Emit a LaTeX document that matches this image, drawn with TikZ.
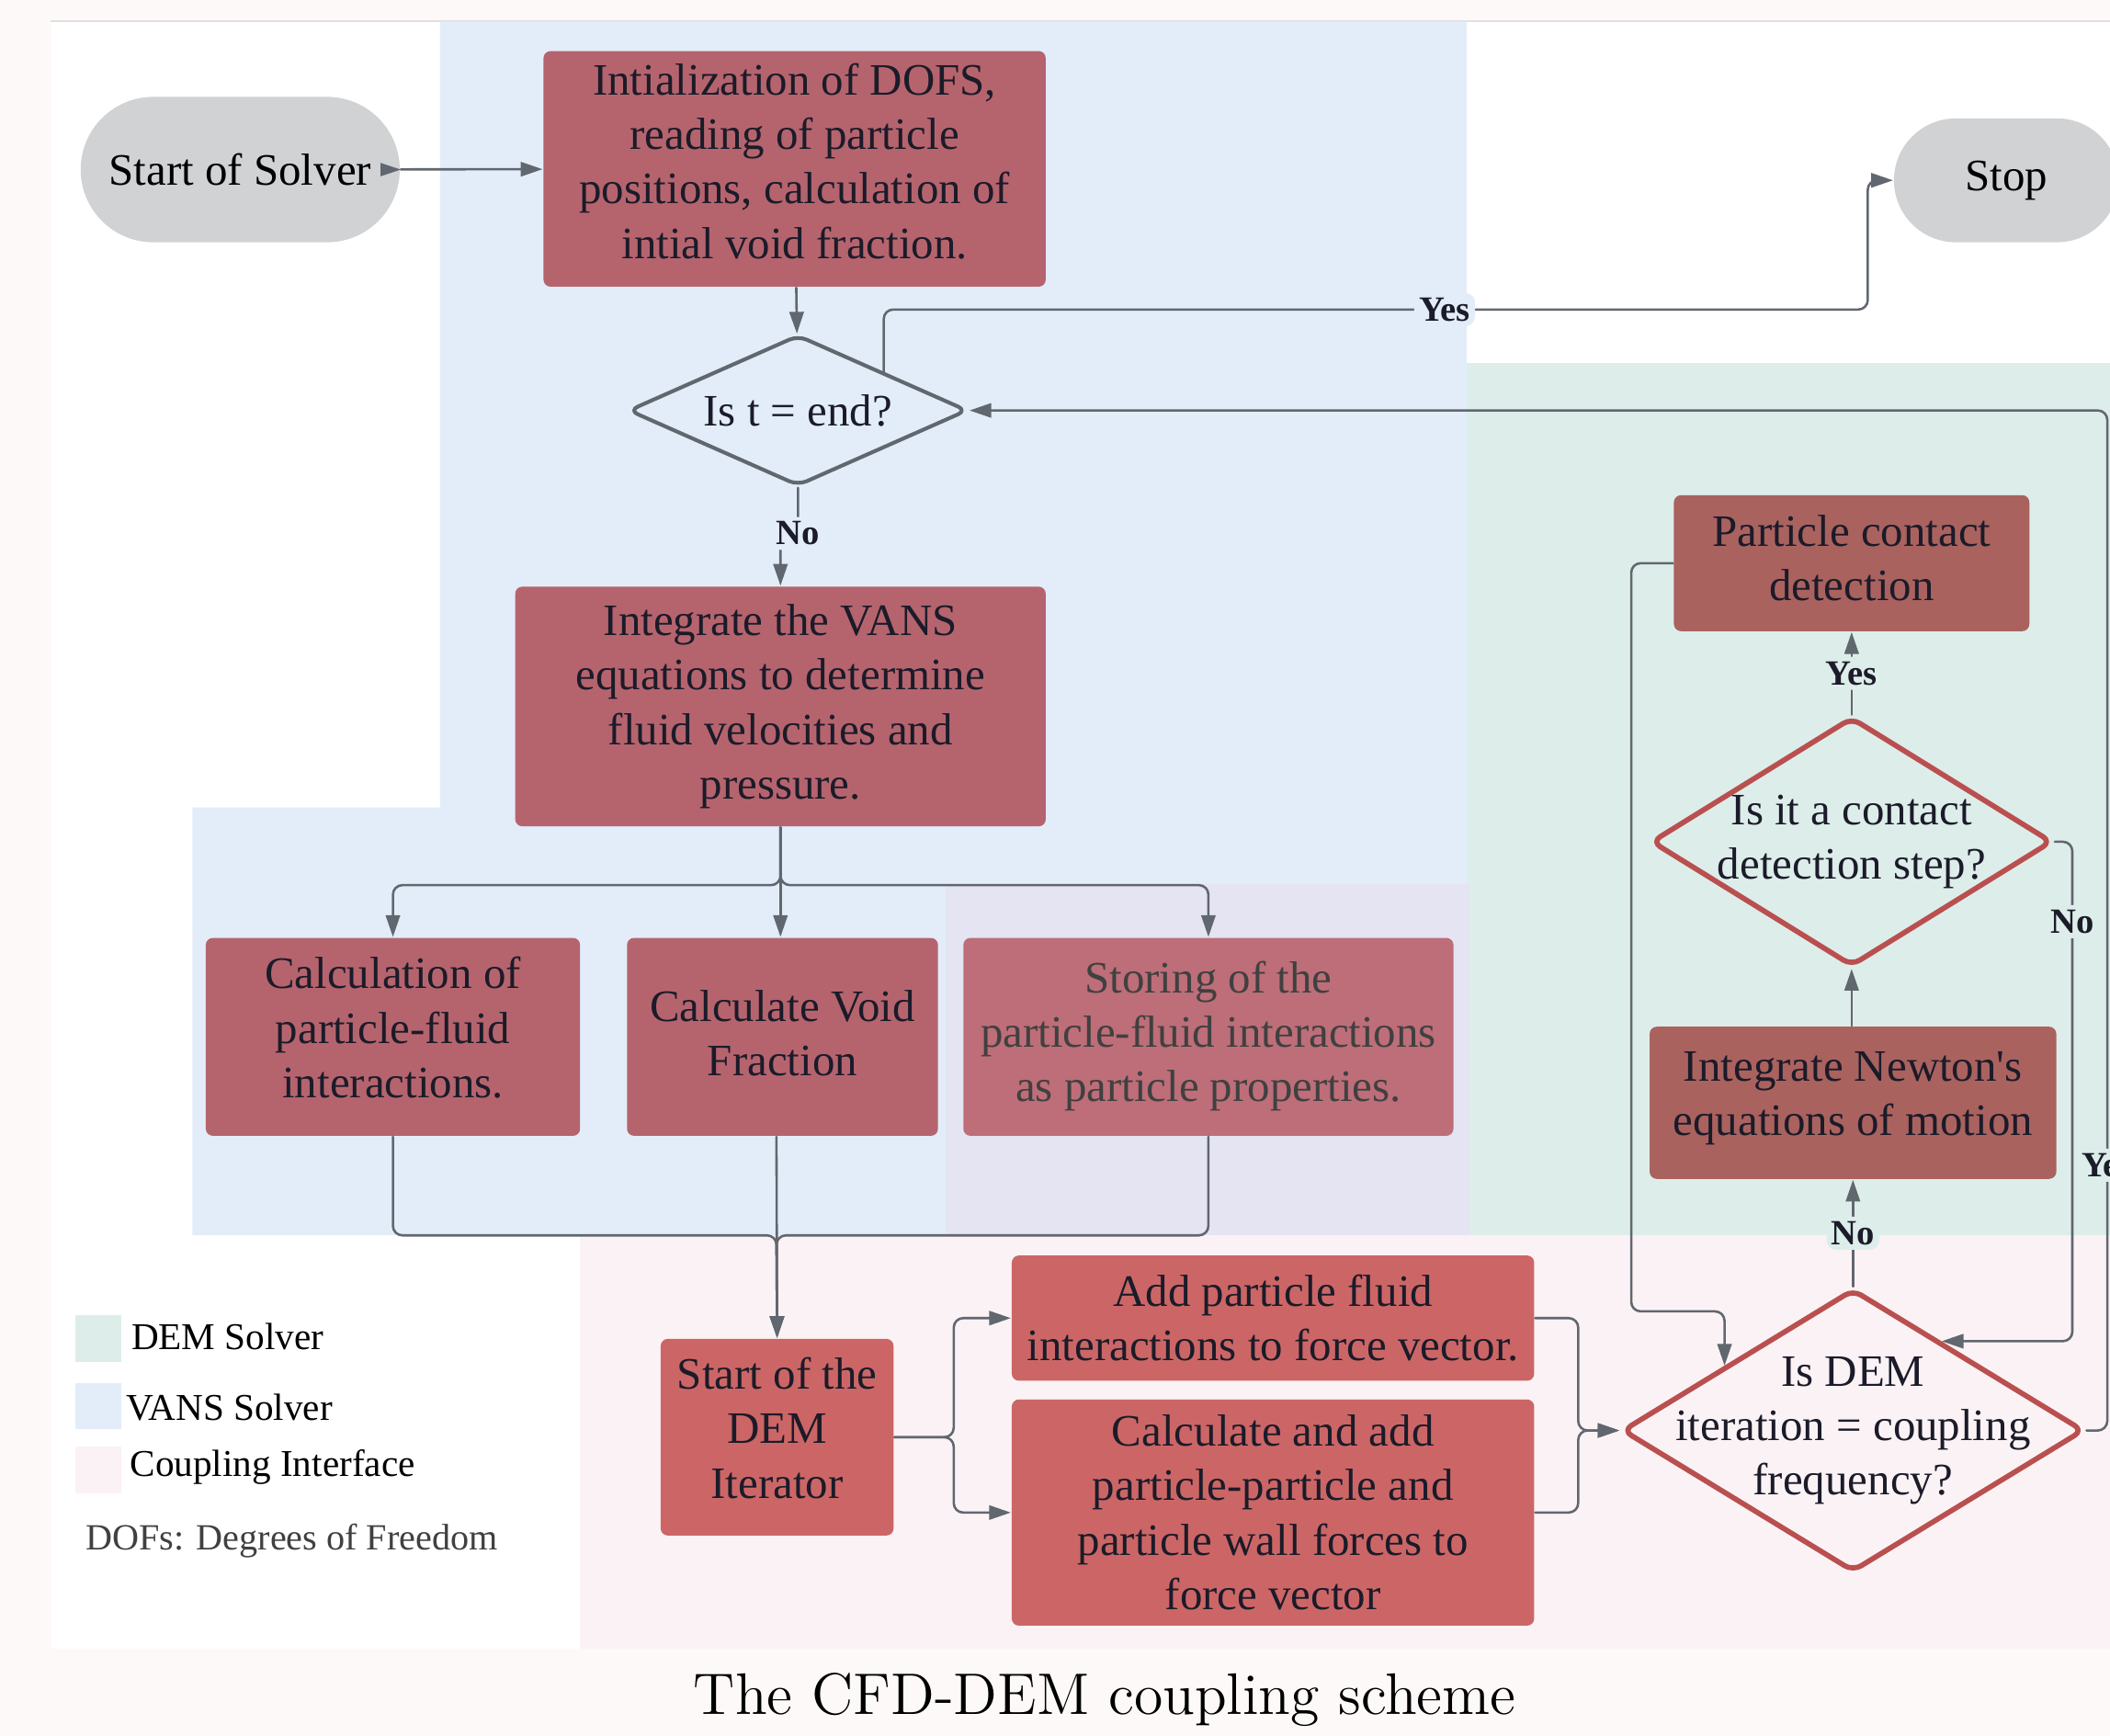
\documentclass[tikz,border=0pt]{standalone}
\usepackage{fontspec}
\usepackage{tikz}
\usetikzlibrary{arrows.meta,shapes.geometric,calc}
\newfontfamily\boxfont{Liberation Serif}
\definecolor{pagebg}{HTML}{FDF9F8}
\definecolor{vansbg}{HTML}{E3EDF9}
\definecolor{dembg}{HTML}{DDEDEA}
\definecolor{coupbg}{HTML}{FBF2F5}
\definecolor{lavbg}{HTML}{E4E4F2}
\definecolor{vansbox}{HTML}{B5646E}
\definecolor{storebox}{HTML}{BD6E79}
\definecolor{coupbox}{HTML}{CC6666}
\definecolor{dembox}{HTML}{AA625F}
\definecolor{termgray}{HTML}{D1D2D4}
\definecolor{linecol}{HTML}{61676F}
\definecolor{decred}{HTML}{B9504F}
\definecolor{txtcol}{HTML}{1B1B29}
% extra depth under the last line, lifts the text a little
\newcommand\deepstrut[1]{\rule[-#1]{0pt}{#1}}

\tikzset{
  stepbox/.style={rectangle, rounded corners=1.5pt, align=center, text=txtcol,
    font=\boxfont\fontsize{9.5}{11.5}\selectfont, inner sep=1pt},
  term/.style={stepbox, fill=termgray, text=black},
  query/.style={diamond, align=center, text=txtcol,
    font=\boxfont\fontsize{9.5}{11.5}\selectfont, rounded corners=2pt},
  flow/.style={draw=linecol, line width=0.5pt, rounded corners=2pt, ->},
  lbl/.style={font=\boxfont\bfseries\fontsize{7.5}{9}\selectfont, text=txtcol, inner sep=1pt},
  legtxt/.style={anchor=west, font=\boxfont\fontsize{8}{9.5}\selectfont, text=black, inner sep=0pt}
}

\begin{document}
\begin{tikzpicture}[line cap=round,line join=round,>={Triangle[length=4.6pt,width=3pt]},x=0.01cm,y=-0.01cm]
\useasboundingbox (0,0) rectangle (1568,1290);
% panels
\fill[pagebg] (0,0) rectangle (1568,1290);
\fill[white] (38,16) rectangle (1568,1225);
\draw[black!12] (38,16) -- (1568,16);
\fill[vansbg] (327,16) -- (1090,16) -- (1090,918) -- (143,918) -- (143,600) -- (327,600) -- cycle;
\fill[dembg] (1090,270) rectangle (1568,918);
\fill[lavbg] (703,657) rectangle (1092,918);
\fill[coupbg] (431,918) rectangle (1568,1225);
% legend
\fill[dembg] (56,977) rectangle (90,1012);
\fill[vansbg] (56,1028) rectangle (90,1062);
\fill[coupbg] (56,1075) rectangle (90,1110);
\node[legtxt] (legdem) at (97,993) {DEM Solver};
\node[legtxt] (legvans) at (93,1046) {VANS Solver};
\node[legtxt] (legcoup) at (96,1090) {Coupling Interface};
\node[legtxt, text=black!75, font=\boxfont\fontsize{7.8}{9.5}\selectfont] (dofs) at (63,1145) {DOFs: Degrees of Freedom};
% nodes
\node[term, rounded corners=0.54cm, minimum width=2.37cm, minimum height=1.08cm] (start) at (178.5,126) {Start of Solver};
\node[term, rounded corners=0.46cm, minimum width=1.67cm, minimum height=0.92cm] (stop) at (1491,134) {Stop};
\node[stepbox, fill=vansbox, minimum width=3.73cm, minimum height=1.75cm] (init) at (590.5,125.5)
  {Intialization of DOFS,\\reading of particle\\positions, calculation of\\intial void fraction.\deepstrut{3.4pt}};
\node[query, draw=linecol, line width=0.8pt, aspect=2.25, minimum width=2.52cm, minimum height=1.12cm, inner sep=0pt] (tend) at (593,305) {Is t = end?};
\node[stepbox, fill=vansbox, minimum width=3.94cm, minimum height=1.78cm] (vans) at (580,525)
  {Integrate the VANS\\equations to determine\\fluid velocities and\\pressure.};
\node[stepbox, fill=vansbox, minimum width=2.78cm, minimum height=1.47cm] (calcpf) at (292,770.5)
  {Calculation of\\particle-fluid\\interactions.\deepstrut{4pt}};
\node[stepbox, fill=vansbox, minimum width=2.31cm, minimum height=1.47cm] (voidf) at (581.5,770.5)
  {Calculate Void\\Fraction\deepstrut{1.7pt}};
\node[stepbox, fill=storebox, text=black!75, minimum width=3.64cm, minimum height=1.47cm] (store) at (898,770.5)
  {Storing of the\\particle-fluid interactions\\as particle properties.\deepstrut{2.3pt}};
\node[stepbox, fill=coupbox, minimum width=1.73cm, minimum height=1.46cm] (demit) at (577.5,1068)
  {Start of the\\DEM\\Iterator\deepstrut{4pt}};
\node[stepbox, fill=coupbox, minimum width=3.88cm, minimum height=0.93cm] (addpf) at (946,979.5)
  {Add particle fluid\\interactions to force vector.};
\node[stepbox, fill=coupbox, minimum width=3.88cm, minimum height=1.68cm] (addpp) at (946,1124)
  {Calculate and add\\particle-particle and\\particle wall forces to\\force vector};
\node[query, draw=decred, line width=1.1pt, aspect=1.63, minimum width=3.43cm, minimum height=2.10cm, inner sep=-0.25cm] (demq) at (1377,1063)
  {Is DEM\\iteration = coupling\\frequency?\deepstrut{1.5pt}};
\node[stepbox, fill=dembox, minimum width=3.02cm, minimum height=1.13cm] (newton) at (1377,819.5)
  {Integrate Newton's\\equations of motion\deepstrut{4pt}};
\node[query, draw=decred, line width=1.1pt, aspect=1.61, minimum width=2.98cm, minimum height=1.85cm, inner sep=-0.1cm] (contq) at (1376,625.5)
  {Is it a contact\\detection step?};
\node[stepbox, fill=dembox, minimum width=2.64cm, minimum height=1.01cm] (contact) at (1376,418.5)
  {Particle contact\\detection\deepstrut{2.3pt}};
% bends
\coordinate (yesbend) at (1388,230);
\coordinate (backbend) at (1566,305);
\coordinate (join) at (577,918);
\coordinate (demqleft) at ($(demq.north)!0.55!(demq.west)$);
\coordinate (demqright) at ($(demq.north)!0.38!(demq.east)$);
% connectors
\fill[linecol] (start.east) -- ++(-15,-5) -- ++(0,10) -- cycle;
\draw[flow] (start) -- (init);
\draw[flow] (init) -- (tend);
\draw[flow] (tend.north east) |- node[lbl, fill=vansbg, pos=0.785] (yes1) {Yes} (yesbend) |- (stop.west);
\draw[flow] (demq.east) -| node[lbl, fill=dembg, pos=0.63] (yes3) {Yes} (backbend) -- (tend.east);
\draw[flow] (tend.south) -- ++(0,34) node[lbl, fill=vansbg] (no1) {No} -| (vans.north);
\draw[flow] (vans.south) -- ++(0,43) -| (calcpf.north);
\draw[flow] (vans.south) -- (vans.south |- voidf.north);
\draw[flow] (vans.south) -- ++(0,43) -| (store.north);
\draw[flow] (calcpf.south) |- (join) -- (demit.north);
\draw[flow] (voidf.south -| join) -- (demit.north);
\draw[flow] (store.south) |- (join) -- (demit.north);
\draw[flow] (demit.east) -- ++(44,0) |- (addpf.west);
\draw[flow] (demit.east) -- ++(44,0) |- (addpp.west);
\draw[flow] (addpf.east) -- ++(32,0) |- (demq.west);
\draw[flow] (addpp.east) -- ++(32,0) |- (demq.west);
\draw[flow] (demq.north) -- node[lbl, fill=dembg] (no2) {No} (newton.south);
\draw[flow] (newton.north -| contq.south) -- (contq.south);
\draw[flow] (contq.north) -- node[lbl, fill=dembg] (yes2) {Yes} (contact.south);
\draw[flow] (contq.east) -- ++(13,0) |- node[lbl, fill=dembg, pos=0.08] (no3) {No} (demqright);
\draw[flow] (contact.west) -- ++(-31,0) -- ++(0,556) -| (demqleft);
% caption
\node[font=\fontsize{12.4}{14}\selectfont] (caption) at (821,1263) {The CFD-DEM coupling scheme};
\end{tikzpicture}
\end{document}
